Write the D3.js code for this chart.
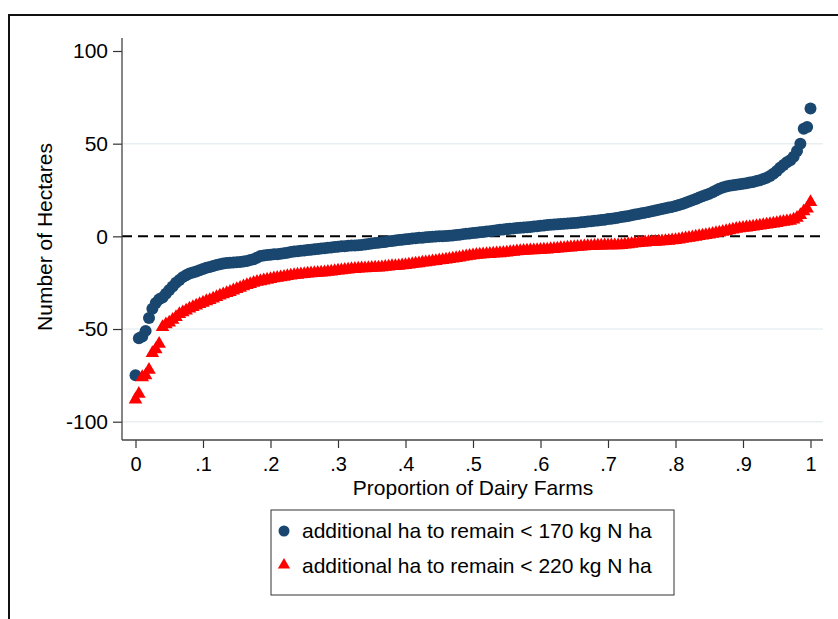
<!DOCTYPE html>
<html>
<head>
<meta charset="utf-8">
<script src="https://cdn.jsdelivr.net/npm/d3@7"></script>
<style>
  html, body { margin: 0; padding: 0; background: #fff; }
  svg { display: block; }
  text { font-family: "Liberation Sans", Arial, Helvetica, sans-serif; fill: #000; }
</style>
</head>
<body>
<svg id="chart" width="838" height="619"></svg>
<script>
// ---- Data ----
const seriesNames = [
  "additional ha to remain < 170 kg N ha",
  "additional ha to remain < 220 kg N ha"
];
// Sorted values, one per farm (proportion = rank / (n-1))
const ha170 = [
  -75,-55,-54,-51,-44,-39,-36,-34,-33,-31,
  -29,-27,-25,-23.5,-22,-21,-20,-19.5,-19,-18.3,
  -17.6,-17,-16.5,-16,-15.5,-15,-14.6,-14.4,-14.2,-14.1,
  -14,-13.8,-13.6,-13.3,-12.8,-12.3,-11.5,-10.6,-10.3,-10.1,
  -9.9,-9.7,-9.6,-9.4,-9.1,-8.8,-8.5,-8.2,-8,-7.8,
  -7.6,-7.4,-7.2,-7,-6.8,-6.6,-6.4,-6.2,-6,-5.8,
  -5.6,-5.4,-5.3,-5.1,-5,-4.9,-4.8,-4.6,-4.4,-4.1,
  -3.8,-3.6,-3.4,-3.2,-3,-2.7,-2.5,-2.2,-2,-1.8,
  -1.6,-1.4,-1.2,-1,-0.8,-0.7,-0.5,-0.4,-0.2,-0.1,
  0,0.1,0.2,0.3,0.5,0.7,0.9,1.2,1.4,1.6,
  1.8,2,2.2,2.4,2.6,2.8,3,3.3,3.5,3.7,
  3.9,4.1,4.3,4.5,4.6,4.8,4.9,5.1,5.3,5.5,
  5.7,5.9,6.1,6.2,6.4,6.5,6.6,6.8,6.9,7.1,
  7.2,7.4,7.6,7.8,8,8.2,8.4,8.6,8.8,9,
  9.3,9.5,9.8,10.1,10.4,10.7,11,11.4,11.8,12.1,
  12.5,12.8,13.2,13.5,13.9,14.3,14.7,15.1,15.5,15.9,
  16.4,16.9,17.5,18.1,18.8,19.5,20.2,20.9,21.6,22.3,
  23,23.8,24.7,25.7,26.4,26.9,27.3,27.6,27.8,28.1,
  28.4,28.7,29,29.3,29.8,30.3,30.9,31.6,32.6,33.8,
  35.2,37,38.5,40,41,43,46,50,58,59,
  69
];
const ha220 = [
  -88,-85,-76,-75,-72,-63,-61,-58,-49,-47.5,
  -46.5,-45,-43.5,-42,-41,-40,-39,-38.2,-37.4,-36.6,
  -35.8,-35,-34.4,-33.6,-32.8,-32,-31.3,-30.6,-30,-29.2,
  -28.5,-27.8,-27,-26.3,-25.7,-25.1,-24.6,-24.2,-23.8,-23.4,
  -23,-22.7,-22.4,-22.1,-21.8,-21.5,-21.2,-20.9,-20.7,-20.5,
  -20.3,-20.1,-20,-19.8,-19.7,-19.6,-19.4,-19.2,-19,-18.7,
  -18.5,-18.3,-18.1,-17.9,-17.7,-17.6,-17.4,-17.3,-17.2,-17.1,
  -17,-16.9,-16.8,-16.7,-16.5,-16.3,-16.1,-16,-15.9,-15.7,
  -15.5,-15.2,-15,-14.7,-14.5,-14.2,-14,-13.8,-13.5,-13.3,
  -13,-12.8,-12.5,-12.3,-12,-11.7,-11.4,-11.1,-10.8,-10.5,
  -10.2,-10,-9.9,-9.7,-9.6,-9.5,-9.3,-9.2,-9.1,-8.9,
  -8.7,-8.5,-8.3,-8.1,-8,-7.8,-7.7,-7.6,-7.5,-7.4,
  -7.3,-7.2,-7.1,-6.9,-6.8,-6.6,-6.4,-6.3,-6.1,-6,
  -5.8,-5.7,-5.5,-5.4,-5.3,-5.2,-5.1,-5,-5,-4.9,
  -4.9,-4.8,-4.8,-4.8,-4.7,-4.5,-4.3,-4,-3.8,-3.6,
  -3.4,-3.3,-3.1,-3,-2.9,-2.8,-2.7,-2.5,-2.4,-2.2,
  -2,-1.7,-1.4,-1.1,-0.8,-0.5,-0.2,0.1,0.4,0.7,
  1,1.4,1.7,2,2.4,2.8,3.2,3.6,4,4.3,
  4.6,4.8,5,5.3,5.5,5.8,6.1,6.4,6.6,6.9,
  7.2,7.5,7.8,8.1,8.4,9,10,11.5,13.5,15,
  18.5
];
const xTicks = [0, 0.1, 0.2, 0.3, 0.4, 0.5, 0.6, 0.7, 0.8, 0.9, 1];
const xTickLabels = ["0", ".1", ".2", ".3", ".4", ".5", ".6", ".7", ".8", ".9", "1"];
const yTicks = [100, 50, 0, -50, -100];
const yTickLabels = ["100", "50", "0", "-50", "-100"];
const yGrid = [50, -50, -100];
const xTitle = "Proportion of Dairy Farms";
const yTitle = "Number of Hectares";
const colors = ["#1a476f", "#ff0000"];

// ---- Drawing ----
const svg = d3.select("#chart");
const FS = 21;

const x = d3.scaleLinear().domain([0, 1]).range([135.5, 810.5]);
const y = d3.scaleLinear().domain([-100, 100]).range([421.7, 51]);

const plotLeft = 122, plotRight = 823, plotTop = 38, plotBottom = 440;

// outer frame (cropped graph border)
svg.append("path")
  .attr("d", `M9,619 L9,15 L838,15`)
  .attr("fill", "none").attr("stroke", "#111").attr("stroke-width", 2);

// grid lines
svg.append("g").selectAll("line").data(yGrid).join("line")
  .attr("x1", plotLeft).attr("x2", plotRight)
  .attr("y1", d => y(d)).attr("y2", d => y(d))
  .attr("stroke", "#e8eff2").attr("stroke-width", 1.5);

// zero reference line (dashed)
svg.append("line")
  .attr("x1", plotLeft).attr("x2", plotRight)
  .attr("y1", y(0)).attr("y2", y(0))
  .attr("stroke", "#000").attr("stroke-width", 2)
  .attr("stroke-dasharray", "10,6");

// markers
const n1 = ha170.length, n2 = ha220.length;
svg.append("g").selectAll("circle").data(ha170).join("circle")
  .attr("cx", (d, i) => x(i / (n1 - 1)))
  .attr("cy", d => y(d))
  .attr("r", 6)
  .attr("fill", colors[0]);

const tri = d3.symbol().type(d3.symbolTriangle).size(80);
svg.append("g").selectAll("path").data(ha220).join("path")
  .attr("d", tri)
  .attr("transform", (d, i) => `translate(${x(i / (n2 - 1))},${y(d)})`)
  .attr("fill", colors[1]);

// Y axis
const yAxis = d3.axisLeft(y).tickValues(yTicks)
  .tickFormat((d, i) => yTickLabels[i]).tickSize(9).tickPadding(5);
const gy = svg.append("g").attr("transform", `translate(${plotLeft},0)`).call(yAxis);
gy.select(".domain").remove();
gy.selectAll(".tick line").attr("stroke", "#333").attr("stroke-width", 1.2);
gy.selectAll(".tick text").attr("font-size", FS).attr("fill", "#000")
  .style("font-family", '"Liberation Sans", Arial, sans-serif');
svg.append("line").attr("x1", plotLeft).attr("x2", plotLeft)
  .attr("y1", plotTop).attr("y2", plotBottom)
  .attr("stroke", "#444").attr("stroke-width", 1.3);

// X axis
const xAxis = d3.axisBottom(x).tickValues(xTicks)
  .tickFormat((d, i) => xTickLabels[i]).tickSize(8).tickPadding(9);
const gx = svg.append("g").attr("transform", `translate(0,${plotBottom})`).call(xAxis);
gx.select(".domain").remove();
gx.selectAll(".tick line").attr("stroke", "#333").attr("stroke-width", 1.2);
gx.selectAll(".tick text").attr("font-size", 20).attr("fill", "#000")
  .style("font-family", '"Liberation Sans", Arial, sans-serif');
svg.append("line").attr("x1", plotLeft).attr("x2", plotRight)
  .attr("y1", plotBottom).attr("y2", plotBottom)
  .attr("stroke", "#444").attr("stroke-width", 1.3);

// axis titles
svg.append("text").attr("x", 473).attr("y", 495)
  .attr("text-anchor", "middle").attr("font-size", FS).text(xTitle);
svg.append("text").attr("transform", "translate(52,237) rotate(-90)")
  .attr("text-anchor", "middle").attr("font-size", FS).text(yTitle);

// legend
const lg = svg.append("g");
lg.append("rect").attr("x", 271).attr("y", 510).attr("width", 403).attr("height", 85)
  .attr("fill", "#fff").attr("stroke", "#333").attr("stroke-width", 1);
lg.append("circle").attr("cx", 284).attr("cy", 531).attr("r", 5.5).attr("fill", colors[0]);
lg.append("path").attr("d", d3.symbol().type(d3.symbolTriangle).size(65))
  .attr("transform", "translate(284,565)").attr("fill", colors[1]);
lg.append("text").attr("x", 302).attr("y", 538).attr("font-size", FS).text(seriesNames[0]);
lg.append("text").attr("x", 302).attr("y", 573).attr("font-size", FS).text(seriesNames[1]);
</script>
</body>
</html>
